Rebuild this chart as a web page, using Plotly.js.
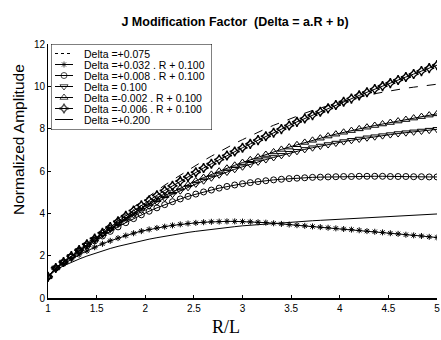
<!DOCTYPE html>
<html><head><meta charset="utf-8">
<script src="https://cdn.plot.ly/plotly-3.0.1.min.js"></script>
<style>html,body{margin:0;padding:0;background:#fff}#chart{width:441px;height:340px}</style>
</head><body><div id="chart"></div>
<script>
// R/L sample positions
const R = [1.00,1.08,1.16,1.24,1.32,1.40,1.48,1.56,1.64,1.72,1.80,1.88,1.96,2.04,2.12,2.20,2.28,2.36,2.44,2.52,2.60,2.68,2.76,2.84,2.92,3.00,3.08,3.16,3.24,3.32,3.40,3.48,3.56,3.64,3.72,3.80,3.88,3.96,4.04,4.12,4.20,4.28,4.36,4.44,4.52,4.60,4.68,4.76,4.84,4.92,5.00];

// Delta = +0.075
const d075 = [1.0,1.45,1.73,2.02,2.31,2.60,2.89,3.18,3.46,3.74,4.02,4.29,4.56,4.82,5.08,5.33,5.57,5.81,6.04,6.27,6.49,6.70,6.91,7.11,7.30,7.48,7.66,7.83,8.00,8.16,8.31,8.46,8.60,8.73,8.86,8.98,9.10,9.21,9.31,9.40,9.49,9.57,9.65,9.72,9.79,9.85,9.91,9.96,10.01,10.06,10.10];
// Delta = +0.032 R + 0.100
const d032 = [1.0,1.38,1.62,1.84,2.04,2.22,2.40,2.56,2.70,2.83,2.95,3.06,3.16,3.24,3.31,3.37,3.43,3.48,3.52,3.55,3.58,3.60,3.61,3.62,3.62,3.61,3.60,3.58,3.56,3.53,3.50,3.47,3.44,3.41,3.38,3.35,3.32,3.29,3.26,3.23,3.20,3.16,3.13,3.10,3.06,3.03,2.99,2.96,2.93,2.89,2.86];
// Delta = +0.008 R + 0.100
const d008 = [1.0,1.41,1.68,1.95,2.21,2.46,2.70,2.93,3.15,3.36,3.56,3.75,3.93,4.10,4.26,4.41,4.55,4.68,4.80,4.91,5.01,5.10,5.19,5.27,5.34,5.40,5.45,5.50,5.54,5.58,5.61,5.64,5.66,5.68,5.70,5.71,5.72,5.73,5.74,5.74,5.75,5.75,5.75,5.75,5.74,5.74,5.74,5.73,5.73,5.72,5.72];
// Delta = 0.100
const d100 = [1.0,1.42,1.70,1.97,2.24,2.50,2.76,3.01,3.25,3.49,3.72,3.94,4.15,4.35,4.54,4.72,4.90,5.07,5.23,5.39,5.54,5.68,5.82,5.95,6.08,6.20,6.32,6.43,6.54,6.64,6.74,6.84,6.93,7.02,7.10,7.18,7.25,7.32,7.39,7.45,7.51,7.57,7.62,7.67,7.72,7.77,7.81,7.85,7.89,7.93,7.97];
// Delta = -0.002 R + 0.100
const dm002 = [1.0,1.42,1.70,1.98,2.25,2.52,2.78,3.04,3.29,3.54,3.78,4.01,4.23,4.44,4.64,4.83,5.01,5.19,5.36,5.53,5.69,5.84,5.99,6.13,6.27,6.40,6.53,6.66,6.78,6.90,7.02,7.13,7.24,7.35,7.45,7.55,7.65,7.74,7.83,7.91,7.99,8.07,8.15,8.22,8.29,8.36,8.43,8.50,8.57,8.64,8.70];
// Delta = -0.006 R + 0.100
const dm006 = [1.0,1.42,1.70,1.98,2.26,2.54,2.81,3.08,3.35,3.62,3.88,4.13,4.38,4.62,4.85,5.08,5.30,5.52,5.73,5.94,6.14,6.34,6.54,6.73,6.92,7.10,7.28,7.46,7.64,7.81,7.98,8.15,8.32,8.48,8.64,8.80,8.96,9.12,9.27,9.42,9.57,9.72,9.87,10.01,10.15,10.30,10.44,10.58,10.72,10.86,11.00];
// Delta = +0.200
const d200 = [1.0,1.32,1.52,1.69,1.84,1.98,2.11,2.23,2.34,2.44,2.53,2.62,2.70,2.78,2.85,2.92,2.98,3.04,3.10,3.15,3.20,3.25,3.29,3.33,3.37,3.41,3.44,3.47,3.50,3.53,3.56,3.58,3.61,3.63,3.65,3.67,3.69,3.71,3.73,3.75,3.77,3.79,3.81,3.82,3.84,3.86,3.88,3.90,3.92,3.94,3.97];

const seriesNames = [
  "Delta =+0.075",
  "Delta =+0.032 . R + 0.100",
  "Delta =+0.008 . R + 0.100",
  "Delta = 0.100",
  "Delta =-0.002 . R + 0.100",
  "Delta =-0.006 . R + 0.100",
  "Delta =+0.200"
];
const seriesValues = [d075, d032, d008, d100, dm002, dm006, d200];
const xTicks = [1, 1.5, 2, 2.5, 3, 3.5, 4, 4.5, 5];
const yTicks = [0, 2, 4, 6, 8, 10, 12];

const styles = [
  {dash: 'dash', symbol: null},
  {dash: 'solid', symbol: 'asterisk-open', size: 5, lw: 1},
  {dash: 'solid', symbol: 'circle-open', size: 6, lw: 1},
  {dash: 'solid', symbol: 'triangle-down-open', size: 7, lw: 1},
  {dash: 'solid', symbol: 'triangle-up-open', size: 7, lw: 1},
  {dash: 'solid', symbol: 'star-diamond-open', size: 7, lw: 1.4},
  {dash: 'solid', symbol: null}
];

const traces = [];
seriesValues.forEach((vals, i) => {
  const st = styles[i];
  const tr = {
    x: R, y: vals, type: 'scatter',
    mode: st.symbol ? 'lines+markers' : 'lines',
    name: seriesNames[i], showlegend: false,
    line: {color: '#000', width: 1, dash: st.dash},
    hoverinfo: 'skip'
  };
  if (st.symbol) tr.marker = {symbol: st.symbol, size: st.size, color: '#000', line: {color: '#000', width: st.lw}};
  traces.push(tr);
});

// Custom compact legend drawn on a hidden overlay axis (units = pixels inside box)
const annotations = [];
const rowH = 11, row0 = 9.5;
seriesNames.forEach((nm, i) => {
  const st = styles[i];
  const yy = row0 + rowH * i;
  const tr = {
    x: [4, 13, 22], y: [yy, yy, yy], xaxis: 'x2', yaxis: 'y2', type: 'scatter',
    mode: st.symbol ? 'lines+markers' : 'lines', showlegend: false, hoverinfo: 'skip',
    line: {color: '#000', width: 1, dash: st.dash === 'dash' ? '3px,3px' : 'solid'}
  };
  if (st.symbol) tr.marker = {symbol: st.symbol, size: [0, st.size, 0], color: '#000', line: {color: '#000', width: st.lw}};
  traces.push(tr);
  annotations.push({
    xref: 'x2', yref: 'y2', x: 31, y: yy, text: nm, showarrow: false,
    xanchor: 'left', yanchor: 'middle',
    font: {family: 'Liberation Sans, Arial, sans-serif', size: 10.5, color: '#000'}
  });
});

annotations.push({
  xref: 'paper', yref: 'paper', x: (18 - 48) / 389, y: (298 - 140) / 254,
  text: 'Normalized Amplitude', textangle: -90, showarrow: false,
  xanchor: 'center', yanchor: 'middle',
  font: {family: 'Liberation Sans, Arial, sans-serif', size: 15.5, color: '#000'}
});
annotations.push({
  xref: 'paper', yref: 'paper', x: (226 - 48) / 389, y: (298 - 327) / 254,
  text: 'R/L', showarrow: false, xanchor: 'center', yanchor: 'middle',
  font: {family: 'Liberation Serif, Times New Roman, serif', size: 18, color: '#000'}
});

const tickFont = {family: 'Liberation Sans Narrow, Arial Narrow, Liberation Sans, Arial, sans-serif', size: 10, color: '#000'};

const layout = {
  width: 441, height: 340,
  margin: {l: 48, r: 4, t: 44, b: 42, pad: 0},
  paper_bgcolor: '#fff', plot_bgcolor: '#fff',
  showlegend: false,
  title: {
    text: 'J Modification Factor  (Delta = a.R + b)',
    font: {family: 'Liberation Sans, Arial, sans-serif', size: 12.5, color: '#000', weight: 'bold'},
    x: 235 / 441, xanchor: 'center', xref: 'container',
    y: 1 - 22 / 340, yanchor: 'middle', yref: 'container'
  },
  xaxis: {
    range: [1, 5], tickvals: xTicks, ticktext: xTicks.map(String),
    ticks: 'inside', ticklen: 3, tickcolor: '#000', tickwidth: 1,
    showline: true, linecolor: '#000', linewidth: 1.5, mirror: false,
    showgrid: false, zeroline: false, tickfont: tickFont
  },
  yaxis: {
    range: [0, 12], tickvals: yTicks, ticktext: yTicks.map(String),
    ticks: 'inside', ticklen: 3, tickcolor: '#000', tickwidth: 1,
    showline: true, linecolor: '#000', linewidth: 1, mirror: false,
    showgrid: false, zeroline: false, tickfont: tickFont
  },
  xaxis2: {domain: [(51 - 48) / 389, (212 - 48) / 389], range: [0, 161], visible: false, anchor: 'y2', fixedrange: true},
  yaxis2: {domain: [(298 - 130) / 254, 1], range: [86, 0], visible: false, anchor: 'x2', fixedrange: true},
  shapes: [{
    type: 'rect', xref: 'x2', yref: 'y2', x0: 0, x1: 161, y0: 0, y1: 86,
    line: {color: '#000', width: 1}, fillcolor: 'rgba(0,0,0,0)'
  }],
  annotations: annotations
};

Plotly.newPlot('chart', traces, layout, {staticPlot: true, displayModeBar: false});
</script>
</body></html>
